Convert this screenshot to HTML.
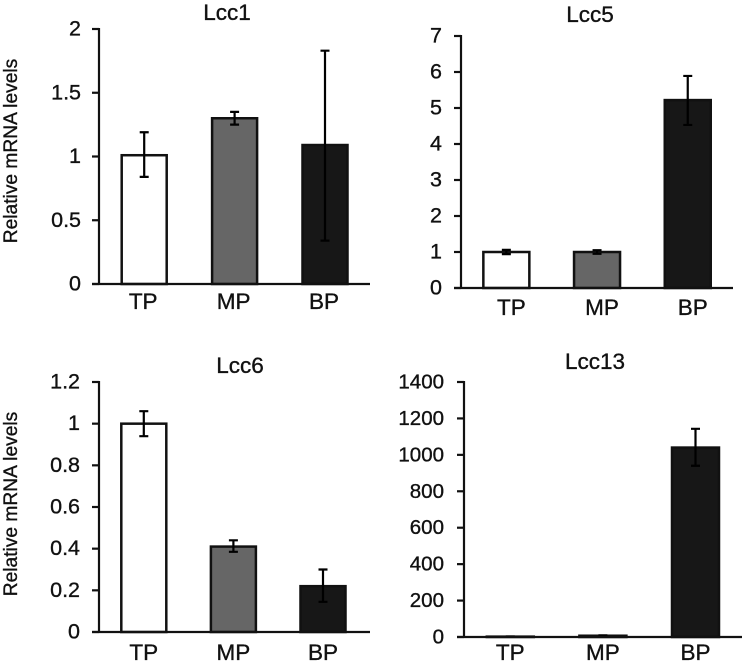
<!DOCTYPE html>
<html lang="en">
<head>
<meta charset="utf-8">
<title>Relative mRNA levels of Lcc genes</title>
<style>
html,body{margin:0;padding:0;background:#fff;}
svg{display:block;filter:blur(0.35px);}
text{font-family:"Liberation Sans",Arial,sans-serif;fill:#111;stroke:#111;stroke-width:0.35px;}
</style>
</head>
<body>
<svg id="figure" xmlns="http://www.w3.org/2000/svg" width="745" height="665" viewBox="0 0 745 665"></svg>
<script>
var categories = ['TP', 'MP', 'BP'];

var lcc1Values = [1.01, 1.30, 1.09];
var lcc1Low = [0.84, 1.25, 0.34];
var lcc1High = [1.19, 1.35, 1.83];
var lcc1Ticks = [0, 0.5, 1, 1.5, 2];

var lcc5Values = [1.0, 1.0, 5.22];
var lcc5Low = [0.94, 0.95, 4.53];
var lcc5High = [1.06, 1.05, 5.89];
var lcc5Ticks = [0, 1, 2, 3, 4, 5, 6, 7];

var lcc6Values = [1.0, 0.41, 0.22];
var lcc6Low = [0.94, 0.385, 0.145];
var lcc6High = [1.06, 0.44, 0.30];
var lcc6Ticks = [0, 0.2, 0.4, 0.6, 0.8, 1, 1.2];

var lcc13Values = [2, 7, 1040];
var lcc13Low = [1, 5, 940];
var lcc13High = [3, 9, 1143];
var lcc13Ticks = [0, 200, 400, 600, 800, 1000, 1200, 1400];

var svgNS = 'http://www.w3.org/2000/svg';
var figure = document.getElementById('figure');
var barFills = ['#ffffff', '#666666', '#171717'];

function make(tag, attrs, parent) {
  var el = document.createElementNS(svgNS, tag);
  for (var k in attrs) { el.setAttribute(k, attrs[k]); }
  parent.appendChild(el);
  return el;
}

function drawChart(c) {
  var g = make('g', {}, figure);
  
  

  function yScale(v) {
    return c.bottom - (v - c.yMin) / (c.yMax - c.yMin) * (c.bottom - c.top);
  }
  function xCenter(i) {
    return c.left + c.band * (i + 0.5);
  }

  var title = make('text', {x: c.titleX, y: c.titleY, 'text-anchor': 'middle', 'font-size': 22.5}, g);
  title.textContent = c.title;
  
  

  if (c.yTitleY) {
    var yt = make('text', {
      transform: 'translate(17,' + c.yTitleY + ') rotate(-90)',
      'text-anchor': 'middle', 'font-size': 19.2
    }, g);
    yt.textContent = 'Relative mRNA levels';
    
    
  }

  c.ticks.forEach(function (t) {
    var y = yScale(t);
    var tick = make('line', {x1: c.left - 7, x2: c.left, y1: y, y2: y, stroke: '#111', 'stroke-width': 2.2}, g);
    
    
    var lab = make('text', {x: c.tickRight, y: y + 6.5, 'text-anchor': 'end', 'font-size': c.tickSize}, g);
    lab.textContent = String(t);
    
    
  });

  categories.forEach(function (name, i) {
    var cx = xCenter(i);
    var yv = yScale(c.values[i]);
    var bar = make('rect', {
      x: cx - c.barW / 2, y: yv, width: c.barW, height: c.bottom - yv,
      fill: barFills[i], stroke: '#111', 'stroke-width': 2.5
    }, g);
    
    

    var yLo = yScale(c.low[i]);
    var yHi = yScale(c.high[i]);
    var err = make('path', {
      d: 'M' + (cx - 4.5) + ' ' + yHi + 'H' + (cx + 4.5) +
         'M' + cx + ' ' + yHi + 'V' + yLo +
         'M' + (cx - 4.5) + ' ' + yLo + 'H' + (cx + 4.5),
      fill: 'none', stroke: '#000', 'stroke-width': 2.2
    }, g);
    
    

    var cat = make('text', {x: cx + c.labelShift, y: c.labelY, 'text-anchor': 'middle', 'font-size': 22.5}, g);
    cat.textContent = name;
    
    
  });

  var yAxis = make('line', {x1: c.left, x2: c.left, y1: c.top - 1, y2: c.bottom + 1, stroke: '#111', 'stroke-width': 2.2}, g);
  
  

  var xAxis = make('line', {x1: c.left - 7, x2: c.right, y1: c.bottom, y2: c.bottom, stroke: '#111', 'stroke-width': 2.2}, g);
  
  
}

drawChart({
  slug: 'lcc1', title: 'Lcc1', titleX: 227, titleY: 20,
  values: lcc1Values, low: lcc1Low, high: lcc1High, ticks: lcc1Ticks,
  yMin: 0, yMax: 2, left: 99, right: 370, top: 29, bottom: 284, band: 90.4, barW: 45,
  tickRight: 81, tickSize: 21.5, labelY: 309, labelShift: -1, yTitleY: 151
});
drawChart({
  slug: 'lcc5', title: 'Lcc5', titleX: 590, titleY: 22,
  values: lcc5Values, low: lcc5Low, high: lcc5High, ticks: lcc5Ticks,
  yMin: 0, yMax: 7, left: 461, right: 733, top: 36, bottom: 288, band: 90.7, barW: 46,
  tickRight: 442, tickSize: 21.5, labelY: 315, labelShift: 5, yTitleY: 0
});
drawChart({
  slug: 'lcc6', title: 'Lcc6', titleX: 240, titleY: 373,
  values: lcc6Values, low: lcc6Low, high: lcc6High, ticks: lcc6Ticks,
  yMin: 0, yMax: 1.2, left: 99, right: 370, top: 382, bottom: 632, band: 89.6, barW: 45,
  tickRight: 80, tickSize: 21.5, labelY: 660, labelShift: 0, yTitleY: 504
});
drawChart({
  slug: 'lcc13', title: 'Lcc13', titleX: 595, titleY: 369,
  values: lcc13Values, low: lcc13Low, high: lcc13High, ticks: lcc13Ticks,
  yMin: 0, yMax: 1400, left: 464, right: 742, top: 382, bottom: 637, band: 92.6, barW: 47,
  tickRight: 444, tickSize: 20.5, labelY: 660, labelShift: 0, yTitleY: 0
});
</script>
</body>
</html>
